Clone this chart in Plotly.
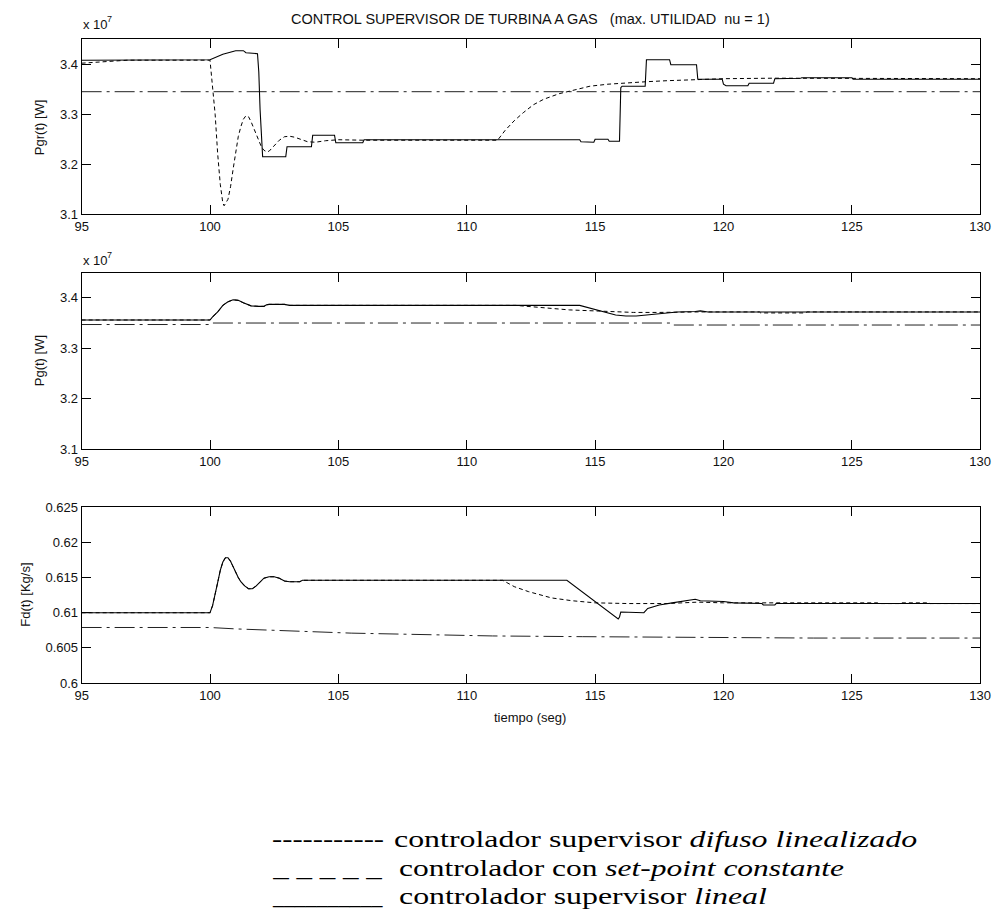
import plotly.graph_objects as go

# ---------------- data (top: Pgr, units x1e7) ----------------
pgr_lin_t = [95, 100, 100.5, 101.0, 101.3, 101.4, 101.85, 101.9, 101.95, 102.0, 102.05,
             102.95, 103.0, 103.95, 104.0, 104.85, 104.9, 105.95, 106.0, 114.4, 114.45,
             114.95, 115.0, 115.5, 115.55, 115.95, 116.0, 116.05, 116.95, 117.0, 117.9,
             117.95, 118.95, 119.0, 119.95, 120.0, 120.1, 120.95, 121.0, 121.95, 122.0,
             123.0, 123.05, 125.0, 125.05, 130]
pgr_lin_v = [3.408, 3.409, 3.420, 3.427, 3.427, 3.423, 3.421, 3.385, 3.310, 3.250, 3.215,
             3.215, 3.235, 3.235, 3.258, 3.258, 3.243, 3.243, 3.249, 3.249, 3.245,
             3.244, 3.250, 3.250, 3.246, 3.246, 3.353, 3.356, 3.356, 3.409, 3.409,
             3.399, 3.399, 3.370, 3.370, 3.360, 3.357, 3.357, 3.362, 3.362, 3.371,
             3.372, 3.373, 3.373, 3.370, 3.370]

pgr_dif_t = [95, 96.8, 100.0, 100.1, 100.2, 100.3, 100.4, 100.5, 100.55, 100.7, 100.8,
             100.9, 101.0, 101.1, 101.2, 101.3, 101.4, 101.5, 101.6, 101.7, 101.8, 101.9,
             102.0, 102.1, 102.2, 102.3, 102.5, 102.7, 102.9, 103.1, 103.3, 103.5, 103.8,
             104.1, 104.5, 105, 106, 111.2, 111.5, 111.85, 112.2, 112.6, 113.0, 113.6,
             114.2, 114.8, 115.5, 116.3, 117.0, 117.8, 119.0, 120, 122, 125, 130]
pgr_dif_v = [3.402, 3.408, 3.408, 3.360, 3.300, 3.220, 3.160, 3.122, 3.117, 3.130, 3.155,
             3.190, 3.225, 3.255, 3.275, 3.290, 3.297, 3.295, 3.285, 3.272, 3.258, 3.245,
             3.235, 3.228, 3.225, 3.226, 3.236, 3.248, 3.255, 3.256, 3.254, 3.250, 3.245,
             3.244, 3.247, 3.249, 3.248, 3.248, 3.268, 3.287, 3.303, 3.319, 3.330, 3.341,
             3.349, 3.356, 3.360, 3.363, 3.365, 3.367, 3.370, 3.371, 3.372, 3.372, 3.371]

pgr_con_t = [95, 130]
pgr_con_v = [3.345, 3.345]

# ---------------- data (middle: Pg, units x1e7) ----------------
pg_lin_t = [95, 100, 100.1, 100.3, 100.5, 100.7, 100.9, 101.1, 101.3, 101.6, 101.9, 102.1,
            102.2, 102.3, 102.9, 103.0, 103.1, 114.4, 114.7, 115.0, 115.4, 115.8, 116.2,
            116.6, 117.0, 117.4, 117.8, 118.2, 118.9, 119.1, 119.4, 130]
pg_lin_v = [3.356, 3.356, 3.362, 3.372, 3.385, 3.392, 3.396, 3.395, 3.390, 3.384, 3.383, 3.383,
            3.386, 3.387, 3.387, 3.386, 3.385, 3.385, 3.381, 3.376, 3.371, 3.366, 3.364,
            3.364, 3.366, 3.368, 3.370, 3.372, 3.373, 3.374, 3.372, 3.372]

pg_dif_t = [95, 100, 100.1, 100.3, 100.5, 100.7, 100.9, 101.1, 101.3, 101.6, 101.9, 102.1,
            102.2, 102.3, 102.9, 103.0, 103.1, 111.9, 112.5, 113.3, 114.0, 114.8, 115.6,
            116.5, 117.5, 119.0, 121.4, 121.45, 123.2, 123.25, 130]
pg_dif_v = [3.356, 3.356, 3.362, 3.372, 3.385, 3.392, 3.396, 3.395, 3.390, 3.384, 3.383, 3.383,
            3.386, 3.387, 3.387, 3.386, 3.385, 3.385, 3.383, 3.379, 3.376, 3.374, 3.372,
            3.371, 3.371, 3.372, 3.372, 3.370, 3.370, 3.372, 3.372]

pg_con_t = [95, 100, 100.05, 118, 118.05, 130]
pg_con_v = [3.347, 3.347, 3.350, 3.350, 3.346, 3.346]

# ---------------- data (bottom: Fd, Kg/s) ----------------
fd_lin_t = [95, 100, 100.1, 100.2, 100.3, 100.4, 100.5, 100.6, 100.7, 100.8, 100.9, 101.0,
            101.1, 101.2, 101.35, 101.5, 101.65, 101.8, 101.95, 102.1, 102.3, 102.5, 102.7,
            102.9, 103.1, 103.5, 103.6, 113.9, 115.9, 115.95, 116.0, 116.9, 117.05, 117.5,
            118.0, 118.5, 118.9, 119.1, 119.6, 120.0, 120.4, 121.5, 121.55, 122.0, 122.05, 130]
fd_lin_v = [0.6100, 0.6100, 0.6110, 0.6125, 0.6143, 0.6160, 0.6172, 0.6178, 0.6178, 0.6173,
            0.6165, 0.6157, 0.6150, 0.6144, 0.6138, 0.6134, 0.6134, 0.6138, 0.6144, 0.6149,
            0.6151, 0.6151, 0.6149, 0.6145, 0.6144, 0.6144, 0.6146, 0.6146, 0.6091, 0.6094,
            0.6101, 0.6100, 0.6106, 0.6111, 0.6114, 0.6117, 0.6119, 0.6117, 0.6116, 0.6116,
            0.6114, 0.6113, 0.6111, 0.6111, 0.6113, 0.6113]

fd_dif_t = [95, 100, 100.1, 100.2, 100.3, 100.4, 100.5, 100.6, 100.7, 100.8, 100.9, 101.0,
            101.1, 101.2, 101.35, 101.5, 101.65, 101.8, 101.95, 102.1, 102.3, 102.5, 102.7,
            102.9, 103.1, 103.5, 103.6, 111.4, 111.85, 112.4, 113.3, 114.1, 115.0, 116.3,
            117.8, 119.0, 120.0, 123.8, 123.85, 126.0, 126.05, 126.9, 126.95, 128.0, 128.05, 130]
fd_dif_v = [0.6100, 0.6100, 0.6110, 0.6125, 0.6143, 0.6160, 0.6172, 0.6178, 0.6178, 0.6173,
            0.6165, 0.6157, 0.6150, 0.6144, 0.6138, 0.6134, 0.6134, 0.6138, 0.6144, 0.6149,
            0.6151, 0.6151, 0.6149, 0.6145, 0.6144, 0.6144, 0.6146, 0.6146, 0.6137, 0.6130,
            0.6121, 0.6117, 0.6114, 0.6113, 0.6113, 0.6115, 0.6114, 0.6113, 0.6114, 0.6114,
            0.6113, 0.6113, 0.6114, 0.6114, 0.6113, 0.6113]

fd_con_t = [95, 100, 101, 102, 103, 104, 105.5, 107, 108, 110, 110.5, 111, 114.5, 118, 123.5, 130]
fd_con_v = [0.6079, 0.6079, 0.6077, 0.6076, 0.6074, 0.6073, 0.6071, 0.6070, 0.6069, 0.6068,
            0.6067, 0.6067, 0.6066, 0.6065, 0.6064, 0.6064]

x_ticks = [95, 100, 105, 110, 115, 120, 125, 130]
pg_ticks = [3.1, 3.2, 3.3, 3.4]
pg_ticktext = ["3.1", "3.2", "3.3", "3.4"]
fd_ticks = [0.6, 0.605, 0.61, 0.615, 0.62, 0.625]
fd_ticktext = ["0.6", "0.605", "0.61", "0.615", "0.62", "0.625"]

title_text = "CONTROL SUPERVISOR DE TURBINA A GAS\u00a0\u00a0\u00a0(max. UTILIDAD\u00a0\u00a0nu = 1)"
ylabels = ["Pgr(t) [W]", "Pg(t) [W]", "Fd(t) [Kg/s]"]
xlabel = "tiempo (seg)"
scale_base = "x 10"
scale_exp = "7"
legend_marks = ["-----------", "_ _ _ _ _", "__________"]
legend_texts = ["controlador supervisor <i>difuso linealizado</i>",
                "controlador con <i>set-point constante</i>",
                "controlador supervisor <i>lineal</i>"]

for a, b in [(pgr_lin_t, pgr_lin_v), (pgr_dif_t, pgr_dif_v), (pg_lin_t, pg_lin_v),
             (pg_dif_t, pg_dif_v), (pg_con_t, pg_con_v), (fd_lin_t, fd_lin_v),
             (fd_dif_t, fd_dif_v), (fd_con_t, fd_con_v)]:
    assert len(a) == len(b), (len(a), len(b))

# ---------------- figure ----------------
W, H = 1003, 924
def xp(px):
    return px / W
def yp(py):
    return 1 - py / H

X0, X1 = 76, 991
boxes = [(32.7, 210.7), (270, 449.3), (508.3, 687.3)]

fig = go.Figure()
SOLID = dict(color="black", width=1.1)
DASH = dict(color="black", width=1.0, dash="4px,3px")
DDOT = dict(color="#222", width=1.0, dash="20px,5px,3px,5px")

series = [
    (pgr_con_t, pgr_con_v, DDOT, 1), (pgr_dif_t, pgr_dif_v, DASH, 1), (pgr_lin_t, pgr_lin_v, SOLID, 1),
    (pg_con_t, pg_con_v, DDOT, 2), (pg_dif_t, pg_dif_v, DASH, 2), (pg_lin_t, pg_lin_v, SOLID, 2),
    (fd_con_t, fd_con_v, DDOT, 3), (fd_dif_t, fd_dif_v, DASH, 3), (fd_lin_t, fd_lin_v, SOLID, 3),
]
for t, v, ln, k in series:
    sfx = "" if k == 1 else str(k)
    fig.add_trace(go.Scatter(x=t, y=v, mode="lines", line=ln, showlegend=False,
                             xaxis="x" + sfx, yaxis="y" + sfx, hoverinfo="skip"))

TICKFONT = dict(family="Liberation Sans, Arial, sans-serif", size=13, color="#111")
layout = dict(width=W, height=H, margin=dict(l=0, r=0, t=0, b=0),
              paper_bgcolor="white", plot_bgcolor="white", showlegend=False)
for i, (top, bot) in enumerate(boxes):
    sfx = "" if i == 0 else str(i + 1)
    xa = dict(domain=[xp(X0), xp(X1)], range=[95, 130], tickvals=x_ticks,
              ticktext=[str(x) for x in x_ticks], ticks="inside", ticklen=9,
              tickcolor="black", showline=True, linecolor="black", linewidth=1,
              mirror="allticks", showgrid=False, zeroline=False, tickfont=TICKFONT,
              anchor="y" + sfx, fixedrange=True)
    if i < 2:
        ya = dict(range=[3.1, 3.45], tickvals=pg_ticks, ticktext=pg_ticktext)
    else:
        ya = dict(range=[0.6, 0.625], tickvals=fd_ticks, ticktext=fd_ticktext)
    ya.update(domain=[yp(bot), yp(top)], ticks="inside", ticklen=9, tickcolor="black",
              showline=True, linecolor="black", linewidth=1, mirror="allticks",
              showgrid=False, zeroline=False, tickfont=TICKFONT, anchor="x" + sfx,
              fixedrange=True)
    layout["xaxis" + sfx] = xa
    layout["yaxis" + sfx] = ya
fig.update_layout(**layout)

AFONT = dict(family="Liberation Sans, Arial, sans-serif", size=13, color="#111")
ann = []
ann.append(dict(text=title_text, x=xp(533.5), y=yp(12), xref="paper", yref="paper",
                xanchor="center", yanchor="middle", showarrow=False,
                font=dict(family="Liberation Sans, Arial, sans-serif", size=14.5, color="#111")))
for py in (18, 258):
    ann.append(dict(text=scale_base, x=xp(75), y=yp(py), xref="paper", yref="paper",
                    xanchor="left", yanchor="middle", showarrow=False, font=AFONT))
    ann.append(dict(text=scale_exp, x=xp(100), y=yp(py - 6), xref="paper", yref="paper",
                    xanchor="left", yanchor="middle", showarrow=False,
                    font=dict(family="Liberation Sans, Arial, sans-serif", size=9, color="#111")))
for lab, px, (top, bot) in zip(ylabels, (33, 33, 18), boxes):
    ann.append(dict(text=lab, x=xp(px), y=yp((top + bot) / 2), xref="paper", yref="paper",
                    xanchor="center", yanchor="middle", textangle=-90, showarrow=False, font=AFONT))
ann.append(dict(text=xlabel, x=xp(533), y=yp(722), xref="paper", yref="paper",
                xanchor="center", yanchor="middle", showarrow=False, font=AFONT))
LFONT = dict(family="Liberation Serif, Times New Roman, serif", size=24, color="black")
first_leg = len(ann)
for i, (mk, tx) in enumerate(zip(legend_marks, legend_texts)):
    cy = [846, 875, 904][i]
    ann.append(dict(text=mk, x=xp(268), y=yp(cy), xref="paper", yref="paper",
                    xanchor="left", yanchor="middle", showarrow=False, font=LFONT))
    ann.append(dict(text=tx, x=xp([392, 397, 397][i]), y=yp(cy), xref="paper", yref="paper",
                    xanchor="left", yanchor="middle", showarrow=False, font=LFONT))
fig.update_layout(annotations=ann)

# target widths (px) of the legend strings, to match the stretched lettering of the original
targets = {first_leg + 0: 112, first_leg + 1: 523,
           first_leg + 2: 111, first_leg + 3: 445,
           first_leg + 4: 111, first_leg + 5: 368}
js_targets = "{" + ",".join(f'"{k}":{v}' for k, v in targets.items()) + "}"
post = """
(function(){
  var T = %s;
  function fix(){
    var gd = document.getElementById('{plot_id}');
    if(!gd) return;
    Object.keys(T).forEach(function(k){
      var g = gd.querySelector('g.annotation[data-index="' + k + '"] text.annotation-text');
      if(!g) return;
      var bb = g.getBBox();
      if(!bb.width) return;
      var sx = T[k] / bb.width;
      g.setAttribute('transform', 'translate(' + (bb.x * (1 - sx)) + ',0) scale(' + sx + ',1)');
    });
  }
  fix();
  setTimeout(fix, 30);
  setTimeout(fix, 300);
})();
""" % js_targets

fig.write_html("out.html", post_script=post)
